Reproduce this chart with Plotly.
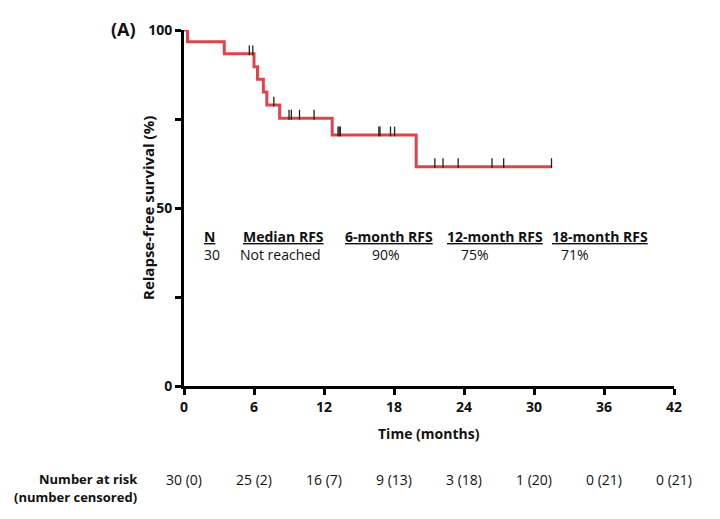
import numpy as np
import plotly.graph_objects as go

# ---- data ----
step_times = [0, 0.3, 3.45, 6.0, 6.3, 6.8, 7.1, 8.2, 12.7, 19.9, 31.5]
step_surv = [100, 96.7, 93.3, 89.7, 86.2, 82.6, 78.9, 75.2, 70.5, 61.6, 61.6]
censor_times = [5.6, 5.9, 7.7, 9.0, 9.2, 9.9, 11.15, 13.2, 13.3, 13.4,
                16.7, 16.8, 17.7, 18.05, 21.5, 22.2, 23.5, 26.4, 27.4, 31.5]
x_ticks = [0, 6, 12, 18, 24, 30, 36, 42]
y_ticks = [0, 25, 50, 75, 100]
y_tick_labels = ["0", "", "50", "", "100"]
risk_labels = ["30 (0)", "25 (2)", "16 (7)", "9 (13)", "3 (18)", "1 (20)", "0 (21)", "0 (21)"]
table_headers = ["N", "Median RFS", "6-month RFS", "12-month RFS", "18-month RFS"]
table_values = ["30", "Not reached", "90%", "75%", "71%"]
header_x = [1.5, 4.9, 13.6, 22.4, 31.4]
value_x = [1.5, 4.65, 15.9, 23.6, 32.1]
header_y = 41.9
value_y = 36.9

FONT = "Open Sans"
FS = 14
RED = "rgb(222,68,74)"
INK = "#111"

# censor y positions from the step function
st = np.array(step_times)
sv = np.array(step_surv)
idx = np.searchsorted(st, np.array(censor_times), side="right") - 1
censor_y = sv[idx] + 1.0

fig = go.Figure()
fig.add_trace(go.Scatter(x=step_times, y=step_surv, mode="lines",
                         line=dict(color=RED, width=3, shape="hv"),
                         cliponaxis=False, showlegend=False, hoverinfo="skip"))
fig.add_trace(go.Scatter(x=censor_times, y=censor_y, mode="markers",
                         marker=dict(symbol="line-ns", size=7,
                                     line=dict(color="#222", width=1.3)),
                         cliponaxis=False, showlegend=False, hoverinfo="skip"))


def txt(text, x, y, xref="paper", yref="paper", xanchor="center", xshift=0, yshift=0,
        size=FS, angle=0):
    return dict(x=x, y=y, xref=xref, yref=yref, text=text, showarrow=False,
                xanchor=xanchor, yanchor="middle", xshift=xshift, yshift=yshift,
                textangle=angle, font=dict(family=FONT, size=size, color=INK))


annotations = []
for h, xh in zip(table_headers, header_x):
    annotations.append(txt(f"<b><u>{h}</u></b>", xh, header_y, "x", "y", "left"))
for v, xv in zip(table_values, value_x):
    annotations.append(txt(v, xv, value_y, "x", "y", "left"))
for lab, xt in zip(risk_labels, x_ticks):
    annotations.append(txt(lab, xt, 0, "x", "paper", "center", yshift=-93))
annotations.append(txt("<b>Number at risk</b>", 0, 0, xanchor="right", xshift=-44, yshift=-93, size=13))
annotations.append(txt("<b>(number censored)</b>", 0, 0, xanchor="right", xshift=-45, yshift=-111, size=13))
annotations.append(txt("<b>(A)</b>", 0, 1, xanchor="right", xshift=-46, yshift=1, size=18))
annotations.append(txt("<b>Time (months)</b>", 0.5, 0, yshift=-47))
annotations.append(txt("<b>Relapse-free survival (%)</b>", 0, 0.5, xshift=-36, angle=-90, size=15))

fig.update_layout(
    width=720, height=519,
    margin=dict(l=176, r=54, t=20, b=141),
    plot_bgcolor="white", paper_bgcolor="white",
    font=dict(family=FONT, color=INK),
    annotations=annotations,
    xaxis=dict(range=[0, 42], tickvals=x_ticks, ticktext=[f"<b>{t}</b>" for t in x_ticks],
               showline=True, linecolor="black", linewidth=2.5, ticks="outside",
               ticklen=6, tickwidth=2.5, tickcolor="black", showgrid=False, zeroline=False,
               tickfont=dict(family=FONT, size=FS, color=INK)),
    yaxis=dict(range=[0, 100], tickvals=y_ticks,
               ticktext=[f"<b>{t}</b>" if t else "" for t in y_tick_labels],
               showline=True, linecolor="black", linewidth=3, ticks="outside",
               ticklen=6, tickwidth=2.5, tickcolor="black", showgrid=False, zeroline=False,
               tickfont=dict(family=FONT, size=FS, color=INK)),
)

fig.write_html("out.html")
